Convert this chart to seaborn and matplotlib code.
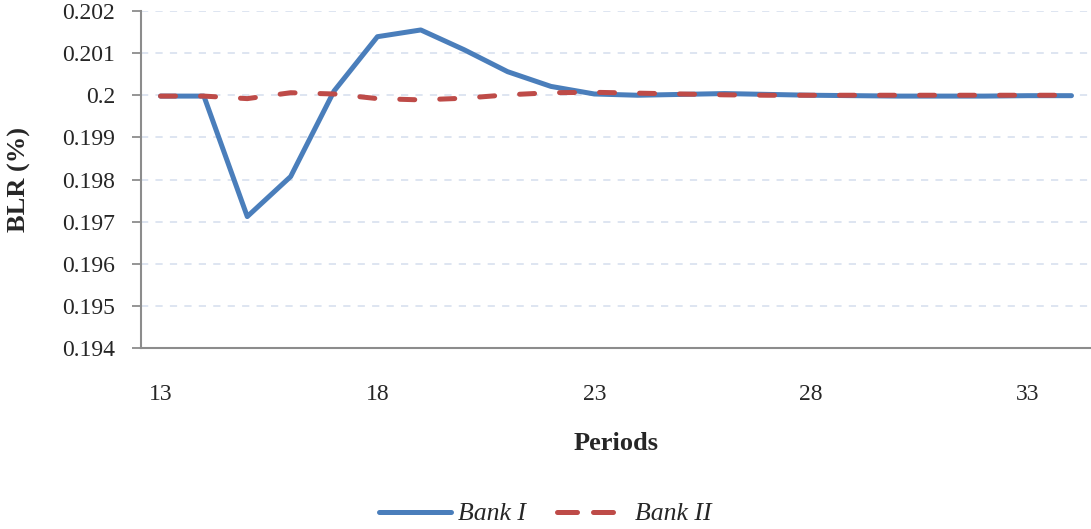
import matplotlib
matplotlib.use("Agg")
import matplotlib.pyplot as plt
import seaborn as sns
import pandas as pd
import numpy as np
from matplotlib.lines import Line2D

periods = list(range(13, 35))
bank1 = [0.19998, 0.19998, 0.19712, 0.19807, 0.20010, 0.20139, 0.20155, 0.20108,
         0.20056, 0.20021, 0.20003, 0.20000, 0.20002, 0.20004, 0.20002, 0.20000,
         0.19999, 0.19998, 0.19998, 0.19998, 0.19999, 0.19999]
bank2 = [0.19998, 0.19998, 0.19992, 0.20006, 0.20003, 0.19992, 0.19989, 0.19993,
         0.20001, 0.20006, 0.20007, 0.20005, 0.20003, 0.20001, 0.20000, 0.20000,
         0.20000, 0.20000, 0.20000, 0.20000, 0.20000, 0.20000]
series_names = ["Bank I", "Bank II"]
xtick_labels = ["13", "18", "23", "28", "33"]

sns.set_theme(style="white")
plt.rcParams['font.family'] = ['Liberation Serif', 'DejaVu Serif']

df = pd.DataFrame({
    "pos": list(range(len(periods))) * 2,
    "value": bank1 + bank2,
    "series": [series_names[0]] * len(periods) + [series_names[1]] * len(periods),
})

fig = plt.figure(figsize=(10.91, 5.29), dpi=100)
ax = fig.add_axes([141/1091, 1 - 348/529, (1091-141)/1091, (348-11)/529])

blue, red = "#4A7EBB", "#BE4B48"
palette = {"Bank I": blue, "Bank II": red}
dash = (3, 5)
sns.lineplot(data=df, x="pos", y="value", hue="series", style="series",
             dashes={"Bank I": "", "Bank II": dash}, palette=palette,
             linewidth=3.6, ax=ax, legend=False)
for ln in ax.lines:
    ln.set_dash_capstyle("round")
    ln.set_solid_joinstyle("round")

ax.set_xlim(-0.45, len(periods) - 0.55)
ax.set_ylim(0.194, 0.202)
yt = np.arange(0.194, 0.20201, 0.001)
ax.set_yticks(yt)
ax.set_yticklabels(["0.2" if abs(v - 0.2) < 1e-9 else "%.3f" % v for v in yt], fontsize=17)
ax.set_xticks([periods.index(int(t)) for t in xtick_labels])
ax.set_xticklabels(xtick_labels, fontsize=17)
ax.tick_params(axis="x", length=0, pad=26)
ax.tick_params(axis="y", length=6.5, width=1.3, color="#8c8c8c", direction="out", pad=12, left=True)

ax.yaxis.grid(True, linestyle=(0, (4, 4)), color="#dbe3f0", linewidth=1.3)
ax.xaxis.grid(False)
for s in ["top", "right"]:
    ax.spines[s].set_visible(False)
for s in ["left", "bottom"]:
    ax.spines[s].set_color("#8c8c8c")
    ax.spines[s].set_linewidth(1.5)

ax.set_xlabel("Periods", fontsize=19, fontweight="bold", labelpad=19)
ax.set_ylabel("BLR (%)", fontsize=19, fontweight="bold")
ax.yaxis.set_label_coords(-110/950, 0.5)

handles = [Line2D([], [], color=blue, lw=3.6, solid_capstyle="round"),
           Line2D([], [], color=red, lw=3.6, dashes=(4, 3.2), dash_capstyle="round")]
fig.legend(handles, series_names, loc="center", bbox_to_anchor=(0.5, 1 - 514/529),
           ncol=2, frameon=False, prop={"style": "italic", "size": 18.5},
           handlelength=2.8, columnspacing=1.2, handletextpad=0.25)

fig.savefig("out.png", dpi=100)
